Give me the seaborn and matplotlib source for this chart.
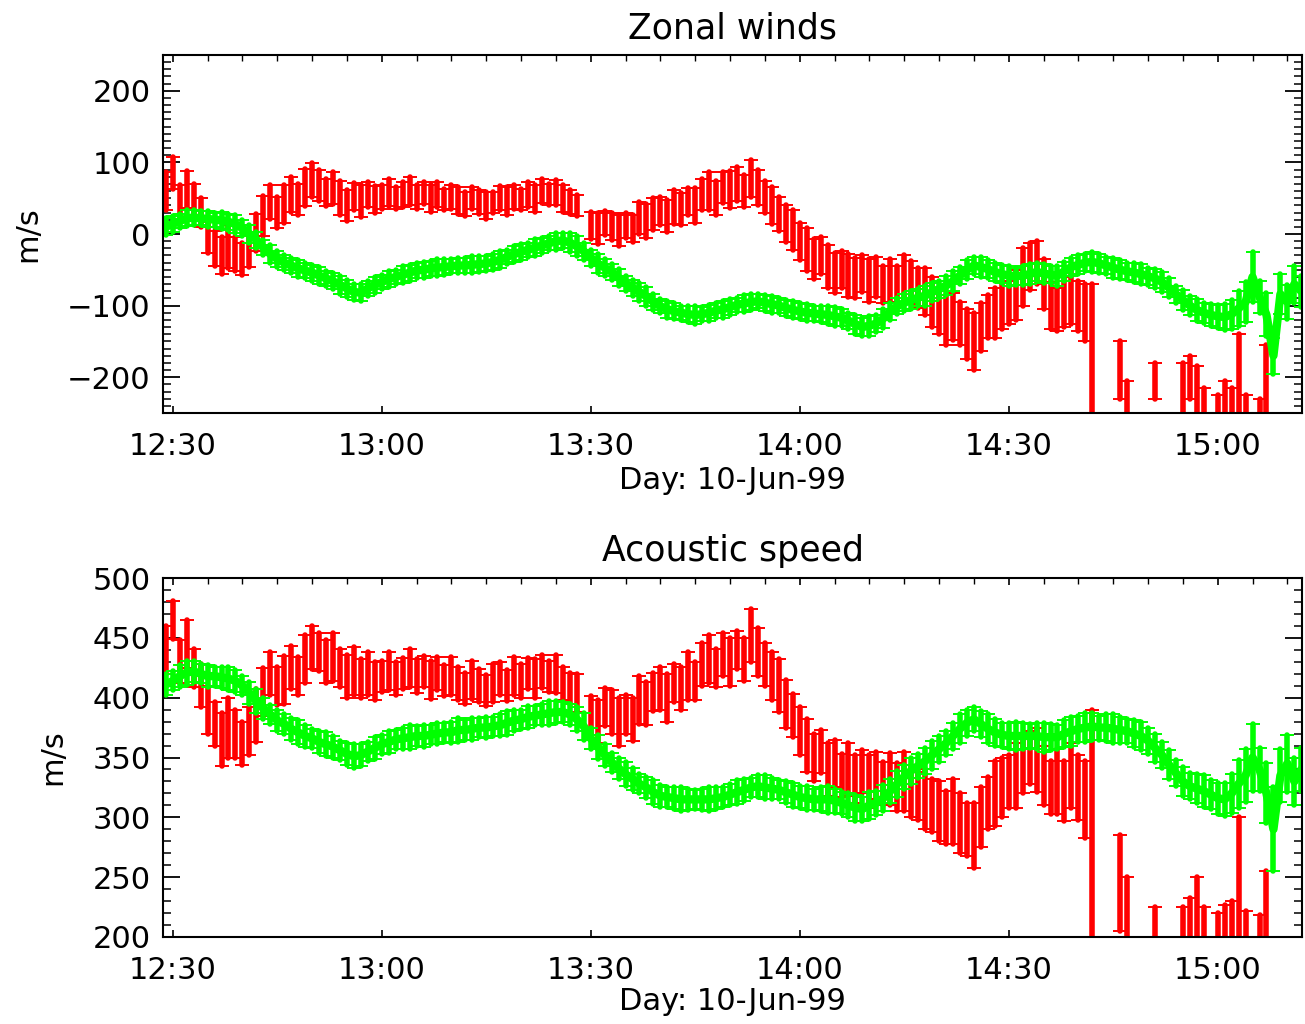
import numpy as np
import pandas as pd
import matplotlib
matplotlib.use("Agg")
import matplotlib.pyplot as plt
from matplotlib.ticker import MultipleLocator, FixedLocator
import seaborn as sns

nan = np.nan

# ---------------- data (one sample per minute, starting 12:29) ----------------
start_time = "12:29"
time_ticks = ["12:30", "13:00", "13:30", "14:00", "14:30", "15:00"]
day_label = "Day: 10-Jun-99"

# Zonal winds (m/s)
zonal_green = [
    10, 14, 18, 22, 23, 22, 21, 20, 19, 17, 14,
    8, 0, -8, -19, -28, -35, -40, -44, -48, -51, -54, -58, -62, -66, -71, -76, -81, -82, -76, -71,
    -67, -63, -60, -57, -54, -51, -50, -48, -47, -46, -45, -44, -44, -43, -42, -41, -39, -36, -32, -28,
    -25, -22, -19, -16, -13, -10, -9, -12, -17, -24, -33, -41, -47, -53, -61, -69, -75, -81, -87, -95,
    -101, -105, -108, -110, -112, -113, -112, -110, -107, -105, -102, -99, -97, -95, -94, -96, -98, -100, -103, -106,
    -108, -110, -111, -112, -113, -115, -117, -121, -126, -130, -128, -125, -118, -108, -101, -96, -92, -89, -86, -81,
    -77, -72, -66, -58, -50, -44, -46, -49, -53, -56, -58, -59, -58, -56, -53, -55, -57, -58, -52, -46,
    -43, -40, -39, -41, -44, -47, -50, -52, -54, -56, -59, -62, -67, -75, -84, -92, -100, -106, -110, -113,
    -115, -116, -112, -104, -95, -60, -88, -113, -170, -84, -95, -70, -80,
]
zonal_green_err = [
    12, 11, 10, 11, 10, 10, 11, 10, 12, 11, 12,
    11, 12, 11, 10, 12, 11, 10, 11, 12, 10, 11, 12, 10, 11, 13, 12, 11, 12, 10, 11,
    10, 11, 10, 12, 11, 10, 11, 10, 12, 11, 10, 11, 10, 12, 11, 10, 11, 12, 10, 11,
    11, 10, 12, 11, 10, 12, 11, 13, 14, 12, 11, 13, 12, 11, 12, 10, 11, 12, 13, 11,
    10, 12, 11, 10, 11, 12, 10, 11, 10, 12, 11, 10, 12, 11, 10, 11, 12, 10, 11, 12,
    11, 12, 10, 11, 12, 13, 12, 11, 13, 12, 14, 12, 13, 12, 11, 12, 13, 12, 14, 13,
    12, 13, 14, 12, 13, 12, 14, 13, 12, 13, 14, 12, 13, 14, 12, 13, 12, 14, 13, 12,
    13, 12, 14, 13, 12, 14, 13, 12, 13, 14, 12, 13, 14, 13, 12, 14, 13, 15, 14, 15,
    16, 18, 20, 25, 28, 35, 22, 30, 25, 28, 24, 26, 22,
]
zonal_red = [
    60, 85, 45, 62, 48, 30, -5, -20, -30, -18, -28,
    -35, -22, 2, 25, 45, 30, 42, 55, 48, 65, 75, 68, 58, 64, 50, 40, 52, 46, 55, 48,
    52, 58, 50, 55, 60, 52, 57, 50, 55, 48, 52, 47, 42, 50, 45, 40, 44, 50, 46, 52,
    48, 55, 50, 60, 55, 58, 50, 45, 40, nan, 12, 8, 15, 10, 5, 12, 8, 22, 18, 28,
    32, 25, 38, 35, 45, 40, 55, 60, 50, 65, 62, 70, 60, 78, 65, 52, 40, 28, 15, 5,
    -10, -22, -35, -30, -45, -55, -50, -58, -62, -55, -65, -60, -70, -65, -72, -62, -68, -75, -80, -95,
    -110, -120, -115, -125, -140, -150, -130, -115, -110, -100, -95, -85, -60, -45, -40, -70, -100, -105, -95, -85,
    -100, -110, -180, nan, nan, nan, -190, -235, nan, nan, nan, -205, nan, nan, nan, -215, -200, -225, -240, nan,
    -245, -235, -240, -200, -245, nan, -245, -205, nan, nan, nan, nan, nan,
]
zonal_red_err = [
    26, 22, 24, 26, 22, 20, 22, 24, 26, 30, 24,
    22, 24, 26, 28, 24, 22, 26, 24, 22, 26, 24, 22, 19, 22, 24, 22, 19, 22, 17, 19,
    17, 19, 15, 17, 19, 17, 15, 19, 17, 15, 17, 19, 17, 15, 17, 19, 15, 17, 19, 17,
    15, 17, 19, 17, 15, 17, 19, 17, 15, 17, 19, 22, 17, 19, 22, 17, 19, 22, 24, 22,
    19, 22, 24, 22, 19, 24, 22, 26, 24, 22, 26, 24, 22, 26, 24, 22, 26, 24, 26, 28,
    26, 30, 28, 26, 30, 28, 26, 30, 28, 26, 30, 28, 26, 30, 28, 33, 30, 28, 33, 35,
    30, 35, 33, 30, 35, 40, 33, 30, 35, 33, 30, 35, 40, 33, 30, 35, 33, 30, 35, 40,
    35, 40, 110, 0, 0, 0, 40, 30, 0, 0, 0, 25, 0, 0, 0, 35, 30, 40, 25, 0,
    20, 30, 25, 60, 20, 0, 15, 50, 0, 0, 0, 0, 0,
]

# Acoustic speed (m/s)
acoustic_green = [
    411, 414, 418, 421, 422, 420, 418, 418, 417, 416, 414,
    410, 404, 397, 391, 386, 381, 378, 374, 371, 368, 366, 363, 361, 359, 356, 353, 351, 352, 355, 358,
    361, 363, 365, 366, 367, 368, 368, 369, 370, 371, 371, 373, 373, 374, 375, 375, 376, 377, 379, 381,
    382, 384, 385, 386, 387, 388, 388, 386, 382, 376, 366, 359, 352, 346, 341, 336, 332, 328, 325, 321,
    318, 317, 316, 315, 315, 315, 315, 315, 316, 317, 319, 321, 323, 325, 326, 325, 324, 323, 321, 319,
    317, 316, 315, 315, 315, 314, 312, 310, 308, 307, 310, 312, 316, 322, 328, 334, 339, 343, 347, 352,
    357, 362, 368, 374, 379, 382, 378, 374, 371, 369, 368, 368, 368, 368, 368, 367, 367, 367, 370, 372,
    374, 375, 376, 375, 375, 374, 373, 372, 370, 368, 364, 358, 352, 344, 337, 330, 326, 324, 322, 319,
    316, 315, 320, 328, 335, 350, 340, 320, 290, 335, 345, 330, 340,
]
acoustic_green_err = [
    9, 8, 9, 10, 9, 8, 9, 8, 9, 10, 9,
    8, 9, 10, 9, 8, 9, 8, 9, 10, 9, 8, 9, 10, 9, 8, 9, 10, 9, 8, 9,
    8, 9, 8, 9, 10, 8, 9, 8, 9, 8, 9, 10, 8, 9, 8, 9, 8, 9, 10, 9,
    8, 9, 8, 9, 10, 9, 8, 9, 10, 11, 9, 10, 9, 8, 9, 10, 9, 8, 9, 10,
    9, 8, 9, 10, 9, 8, 9, 10, 9, 8, 9, 10, 9, 8, 9, 10, 9, 8, 9, 10,
    9, 10, 9, 10, 11, 10, 9, 10, 11, 10, 11, 10, 11, 10, 11, 10, 11, 10, 11, 12,
    11, 10, 11, 12, 11, 10, 11, 12, 11, 10, 11, 12, 11, 10, 11, 12, 11, 10, 11, 12,
    11, 12, 11, 10, 11, 12, 11, 10, 11, 12, 11, 12, 11, 12, 11, 12, 11, 12, 13, 12,
    13, 14, 16, 20, 22, 28, 18, 25, 35, 22, 24, 20, 18,
]
acoustic_red = [
    440, 465, 430, 445, 425, 410, 390, 378, 365, 375, 370,
    362, 372, 385, 405, 420, 410, 415, 425, 418, 432, 442, 438, 430, 434, 425, 418, 422, 416, 420, 414,
    418, 422, 416, 420, 425, 418, 422, 415, 420, 414, 418, 412, 408, 415, 410, 406, 412, 416, 410, 418,
    414, 420, 416, 422, 418, 420, 412, 408, 404, nan, 385, 380, 392, 388, 380, 386, 382, 398, 395, 405,
    408, 400, 412, 408, 418, 414, 428, 432, 425, 436, 430, 440, 432, 452, 438, 428, 418, 410, 395, 385,
    372, 360, 350, 355, 340, 345, 335, 340, 332, 338, 330, 335, 328, 332, 325, 330, 322, 318, 315, 310,
    305, 300, 305, 295, 290, 285, 300, 312, 320, 325, 330, 335, 345, 350, 348, 335, 325, 330, 322, 335,
    325, 315, 270, nan, nan, nan, 245, 225, nan, nan, nan, 210, nan, nan, nan, 205, 215, 225, 210, nan,
    208, 212, 215, 240, 210, nan, 208, 225, nan, nan, nan, nan, nan,
]
acoustic_red_err = [
    20, 16, 18, 20, 16, 18, 20, 18, 22, 25, 20,
    18, 20, 22, 20, 18, 16, 20, 18, 16, 20, 18, 16, 18, 20, 16, 18, 20, 16, 18, 16,
    13, 16, 14, 13, 16, 14, 13, 16, 14, 13, 16, 14, 13, 16, 14, 13, 16, 14, 13, 16,
    14, 13, 16, 14, 13, 16, 14, 13, 16, 0, 16, 18, 16, 18, 20, 16, 18, 20, 18, 16,
    18, 20, 16, 18, 20, 16, 18, 20, 16, 18, 20, 16, 18, 22, 20, 18, 20, 22, 20, 18,
    20, 22, 20, 18, 22, 20, 18, 22, 20, 18, 22, 20, 18, 22, 20, 25, 22, 20, 25, 22,
    25, 22, 27, 25, 22, 27, 25, 22, 27, 25, 22, 27, 25, 22, 27, 25, 22, 27, 25, 27,
    27, 32, 120, 0, 0, 0, 40, 25, 0, 0, 0, 15, 0, 0, 0, 20, 18, 25, 15, 0,
    12, 15, 15, 60, 12, 0, 10, 30, 0, 0, 0, 0, 0,
]

panels = [
    ("Zonal winds", zonal_red, zonal_red_err, zonal_green, zonal_green_err, (-250, 250), 100),
    ("Acoustic speed", acoustic_red, acoustic_red_err, acoustic_green, acoustic_green_err, (200, 500), 50),
]

RED = "#ff0000"
GREEN = "#00ff00"


def to_minutes(s):
    h, m = s.split(":")
    return int(h) * 60 + float(m)


def long_form(values, errors):
    t0 = to_minutes(start_time)
    rows = []
    n = min(len(values), len(errors))
    for i in range(n):
        v, e = values[i], errors[i]
        if v is None or np.isnan(v):
            continue
        t = t0 + i
        rows.append((t, v - e))
        rows.append((t, v + e))
    return pd.DataFrame(rows, columns=["time", "speed"])


sns.set_style("ticks")
plt.rcParams["font.family"] = ["DejaVu Sans"]
for key in ["text.color", "axes.labelcolor", "xtick.color", "ytick.color", "axes.edgecolor"]:
    plt.rcParams[key] = "black"

W, H = 1305, 1024
fig = plt.figure(figsize=(W / 100, H / 100), dpi=100)
boxes = [(163, 55, 1302, 413), (163, 578, 1302, 937)]
xlabel_pads = [3, 1]
tick_pos = [to_minutes(s) for s in time_ticks]
x_limits = (to_minutes("12:28") + 0.6, to_minutes("15:12") + 0.1)

for (title, red, red_err, green, green_err, ylim, ymajor), (l, t, r, b), xlp in zip(panels, boxes, xlabel_pads):
    ax = fig.add_axes([l / W, 1 - b / H, (r - l) / W, (b - t) / H])
    err_kws = dict(capsize=5.0, elinewidth=4.0, capthick=1.4)
    sns.lineplot(data=long_form(red, red_err), x="time", y="speed", estimator="mean",
                 errorbar=("pi", 100), err_style="bars", color=RED, lw=0,
                 err_kws=err_kws, ax=ax)
    sns.lineplot(data=long_form(green, green_err), x="time", y="speed", estimator="mean",
                 errorbar=("pi", 100), err_style="bars", color=GREEN, lw=6.0,
                 err_kws=err_kws, ax=ax)
    ax.set_xlim(*x_limits)
    ax.set_ylim(*ylim)
    ax.xaxis.set_major_locator(FixedLocator(tick_pos))
    ax.set_xticklabels(time_ticks)
    ax.xaxis.set_minor_locator(MultipleLocator(5))
    ax.yaxis.set_major_locator(MultipleLocator(ymajor))
    ax.yaxis.set_minor_locator(MultipleLocator(10))
    for sp in ax.spines.values():
        sp.set_visible(True)
        sp.set_linewidth(1.5)
        sp.set_color("black")
    ax.tick_params(axis="y", which="major", direction="in", left=True, right=True,
                   length=12, width=1.3, labelsize=22, pad=9, color="black")
    ax.tick_params(axis="y", which="minor", direction="in", left=True, right=True,
                   length=6, width=1.1, color="black")
    ax.tick_params(axis="x", which="major", direction="in", bottom=True, top=True,
                   length=5, width=1.2, labelsize=22, pad=14, color="black")
    ax.tick_params(axis="x", which="minor", direction="in", bottom=False, top=True,
                   length=4, width=1.0, color="black")
    ax.set_title(title, fontsize=25, pad=12)
    ax.set_xlabel(day_label, fontsize=22, labelpad=xlp)
    ax.set_ylabel("m/s", fontsize=22, labelpad=18)
    ax.grid(False)

fig.savefig("out.png", dpi=100, facecolor="white")
